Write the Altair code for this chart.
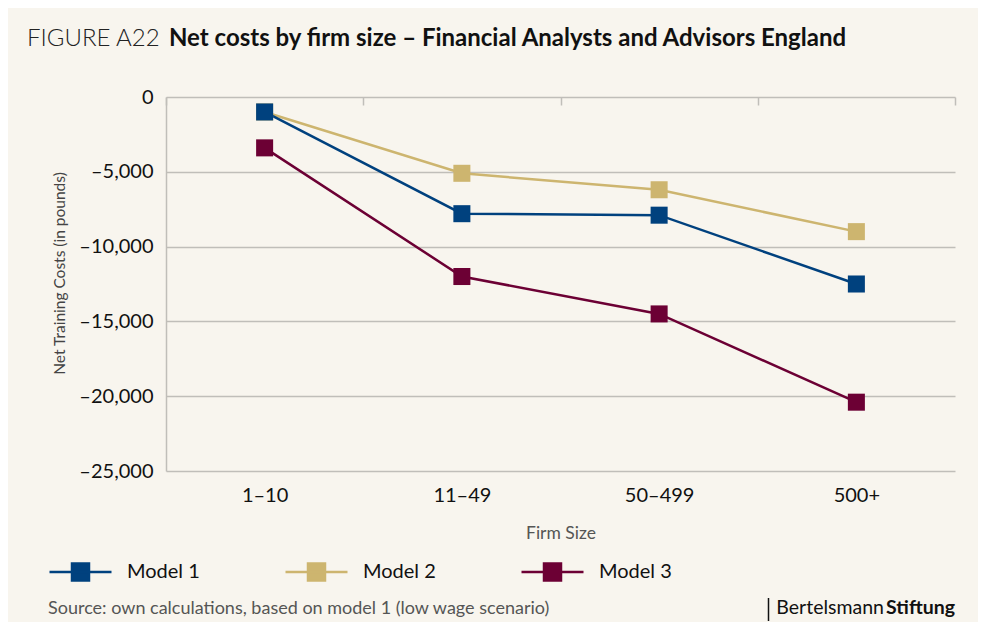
import altair as alt
import pandas as pd

categories = ["1–10", "11–49", "50–499", "500+"]
series_names = ["Model 1", "Model 2", "Model 3"]
model1 = [-1000, -7800, -7900, -12500]
model2 = [-1000, -5100, -6200, -9000]
model3 = [-3400, -12000, -14500, -20400]
colors = ["#00417e", "#cdb56f", "#6c0034"]
y_ticks = [0, -5000, -10000, -15000, -20000, -25000]
band_edges = [-0.5, 0.5, 1.5, 2.5, 3.5]

rows = []
for name, vals in [("Model 3", model3), ("Model 2", model2), ("Model 1", model1)]:
    for i, (c, v) in enumerate(zip(categories, vals)):
        rows.append({"series": name, "idx": i, "firm": c, "value": v})
df = pd.DataFrame(rows)

cat_js = "[" + ",".join("'" + c + "'" for c in categories) + "]"
FONT = "Lato"
GRID = "#c0beb9"

xscale = alt.Scale(domain=[-0.5, 3.5], nice=False, zero=False)
yscale = alt.Scale(domain=[-25000, 0], nice=False)
color_scale = alt.Scale(domain=series_names, range=colors)

yaxis = alt.Axis(values=y_ticks,
                 labelExpr="replace(format(datum.value, ','), '−', '–')",
                 title="Net Training Costs (in pounds)", grid=True,
                 gridColor=GRID, gridWidth=1.5, domainColor=GRID,
                 domainWidth=1.5, ticks=False, labelFontSize=20,
                 labelColor="#111", labelPadding=13, titleFontSize=15.5,
                 titleColor="#444", titleFontWeight="normal",
                 titlePadding=11, titleY=176, labelFont=FONT, titleFont=FONT)

legend_path = "M-1,0H1M-0.274,-0.274H0.274V0.274H-0.274Z"
legend_kw = dict(orient="none", legendX=-118, legendY=442.5,
                 direction="horizontal", columns=3,
                 columnPadding=80, title=None, symbolSize=3844,
                 symbolType=legend_path, symbolStrokeWidth=2.5,
                 labelOffset=14, labelFontSize=20, labelColor="#111",
                 labelFont=FONT, symbolOpacity=1)

lines = alt.Chart(df).mark_line(strokeWidth=2.5).encode(
    x=alt.X("idx:Q", scale=xscale,
            axis=alt.Axis(values=[0, 1, 2, 3], labelExpr=cat_js + "[datum.value]",
                          title="Firm Size", orient="bottom", grid=False, domain=False,
                          ticks=False, labelFontSize=20, labelColor="#111",
                          labelPadding=14, titlePadding=19, titleFontSize=17.5,
                          titleColor="#555", titleFontWeight="normal", labelFont=FONT,
                          titleFont=FONT)),
    y=alt.Y("value:Q", scale=yscale, axis=yaxis),
    color=alt.Color("series:N", scale=color_scale, legend=alt.Legend(**legend_kw)),
)

points = alt.Chart(df).mark_square(size=290, opacity=1).encode(
    x=alt.X("idx:Q", scale=xscale,
            axis=alt.Axis(values=band_edges, orient="top", labels=False, domain=False,
                          grid=False, ticks=True, tickSize=8, tickColor=GRID,
                          tickWidth=1.5, offset=-8, title=None)),
    y=alt.Y("value:Q", scale=yscale, axis=yaxis),
    fill=alt.Fill("series:N", scale=color_scale, legend=alt.Legend(**legend_kw)),
)

one = alt.Data(values=[{}])

fig_label = alt.Chart(one).mark_text(
    text="FIGURE A22", font=FONT, fontSize=24, fontWeight=300, align="left",
    baseline="alphabetic", color="#222").encode(x=alt.value(-139), y=alt.value(-51.5))

fig_title = alt.Chart(one).mark_text(
    text="Net costs by firm size – Financial Analysts and Advisors England",
    font=FONT, fontSize=24, fontWeight="bold", align="left",
    baseline="alphabetic", color="#111").encode(x=alt.value(3), y=alt.value(-51.5))

source = alt.Chart(one).mark_text(
    text="Source: own calculations, based on model 1 (low wage scenario)",
    font=FONT, fontSize=18, align="left", baseline="alphabetic",
    color="#555").encode(x=alt.value(-118), y=alt.value(517))

brand1 = alt.Chart(one).mark_text(
    text="Bertelsmann", font=FONT, fontSize=19.5, align="right", baseline="alphabetic",
    color="#111").encode(x=alt.value(718), y=alt.value(517))

brand2 = alt.Chart(one).mark_text(
    text="Stiftung", font=FONT, fontSize=19.5, fontWeight="bold", align="right",
    baseline="alphabetic", color="#111").encode(x=alt.value(789), y=alt.value(517))

bar = alt.Chart(one).mark_rule(color="#111", strokeWidth=1.5).encode(
    x=alt.value(602.5), y=alt.value(501), y2=alt.value(524))

chart = alt.layer(lines, points, fig_label, fig_title, source, brand1, brand2, bar).resolve_axis(
    x="independent"
).properties(
    width=789, height=374,
    autosize=alt.AutoSizeParams(type="none"),
    padding={"left": 158, "top": 89, "right": 23, "bottom": 151},
    background="#f8f5ee",
).configure(font=FONT).configure_view(stroke=None)

chart.save("out.html", embed_options={"renderer": "svg", "actions": False})
